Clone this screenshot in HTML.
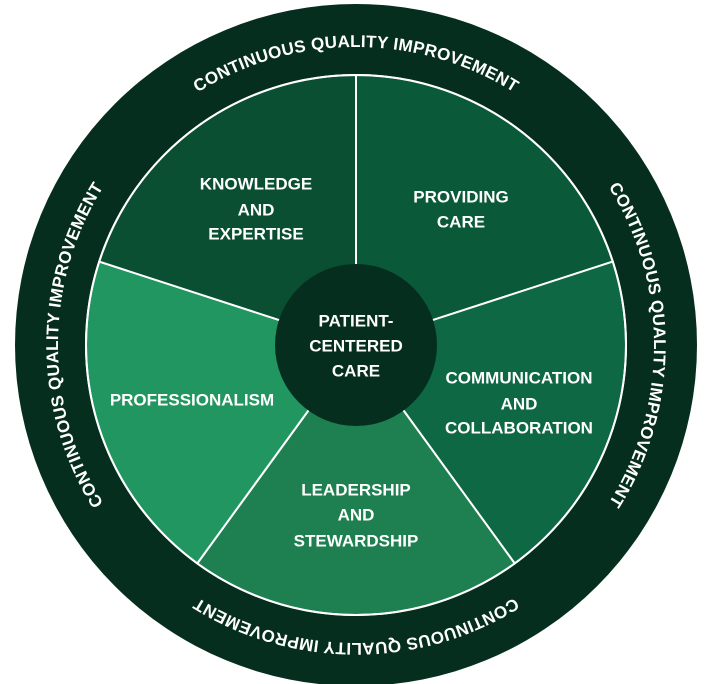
<!DOCTYPE html>
<html><head><meta charset="utf-8"><style>
html,body{margin:0;padding:0;background:#fff;width:710px;height:684px;overflow:hidden}
svg text{font-family:"Liberation Sans",sans-serif;font-weight:bold;fill:#fff}
</style></head><body>
<svg width="710" height="684" viewBox="0 0 710 684">
<defs>
<path id="ring" d="M 58 345 A 298 298 0 1 1 654 345 A 298 298 0 1 1 58 345 A 298 298 0 1 1 654 345 A 298 298 0 1 1 58 345"/>
</defs>
<circle cx="356" cy="345" r="341" fill="#062e1f"/>
<g stroke="#fff" stroke-width="2">
<path d="M356 345 L356 75 A270 270 0 0 1 612.8 261.6 Z" fill="#0a5a39"/>
<path d="M356 345 L612.8 261.6 A270 270 0 0 1 514.7 563.4 Z" fill="#0d6843"/>
<path d="M356 345 L514.7 563.4 A270 270 0 0 1 197.3 563.4 Z" fill="#1e8050"/>
<path d="M356 345 L197.3 563.4 A270 270 0 0 1 99.2 261.6 Z" fill="#229660"/>
<path d="M356 345 L99.2 261.6 A270 270 0 0 1 356 75 Z" fill="#0a4f32"/>
</g>
<circle cx="356" cy="345" r="270" fill="none" stroke="#fff" stroke-width="2"/>
<circle cx="356" cy="345" r="81" fill="#062e1f"/>
<g font-size="17" text-anchor="middle" dominant-baseline="central">
<text x="256" y="184">KNOWLEDGE</text><text x="256" y="210">AND</text><text x="256" y="234">EXPERTISE</text>
<text x="461" y="197">PROVIDING</text><text x="461" y="222">CARE</text>
<text x="356" y="321">PATIENT-</text><text x="356" y="346">CENTERED</text><text x="356" y="371">CARE</text>
<text x="519" y="378">COMMUNICATION</text><text x="519" y="404">AND</text><text x="519" y="428">COLLABORATION</text>
<text x="192" y="400">PROFESSIONALISM</text>
<text x="356" y="490">LEADERSHIP</text><text x="356" y="515">AND</text><text x="356" y="541">STEWARDSHIP</text>
</g>
<g font-size="17" text-anchor="middle" letter-spacing="0.3">
<text><textPath href="#ring" startOffset="12.5%">CONTINUOUS QUALITY IMPROVEMENT</textPath></text>
<text><textPath href="#ring" startOffset="25%">CONTINUOUS QUALITY IMPROVEMENT</textPath></text>
<text><textPath href="#ring" startOffset="37.5%">CONTINUOUS QUALITY IMPROVEMENT</textPath></text>
<text><textPath href="#ring" startOffset="50%">CONTINUOUS QUALITY IMPROVEMENT</textPath></text>
</g>
</svg>
</body></html>
